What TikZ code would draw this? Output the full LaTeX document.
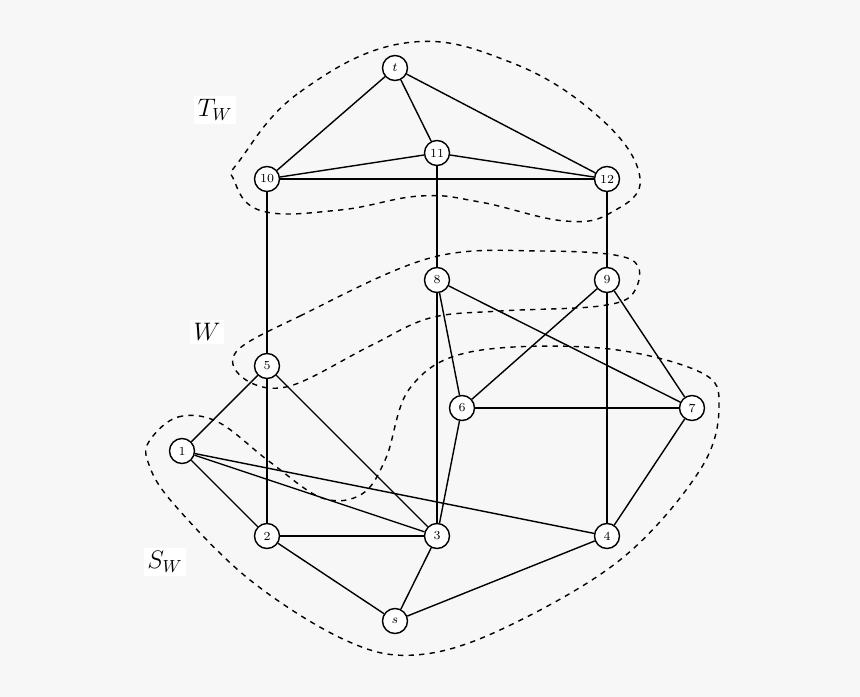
\documentclass[tikz,border=0pt]{standalone}
\begin{document}
\begin{tikzpicture}[
    x=0.02cm, y=-0.02cm,
    vertex/.style={circle, draw, thick, fill=white, minimum size=0.5cm, inner sep=0pt, font=\scriptsize},
    edge/.style={thick},
    blob/.style={thick, dashed},
    setlabel/.style={fill=white, inner sep=2pt, font=\Large}]
  \fill[black!3] (0,0) rectangle (860,697);
  \useasboundingbox (0,0) rectangle (860,697);
  % sets
  \draw[blob] plot[smooth cycle, tension=0.7] coordinates {(240,160) (300,92) (405,43) (510,62) (600,118) (640,178) (612,212) (565,221) (480,202) (420,196) (340,210) (262,211) (234,180)};
  \draw[blob] plot[smooth cycle, tension=0.6] coordinates {(236,352) (300,316) (430,258) (540,251) (630,259) (634,292) (600,306) (500,311) (430,318) (370,346) (290,386) (246,380)};
  \draw[blob] plot[smooth cycle, tension=0.6] coordinates {(150,440) (178,417) (218,422) (270,462) (322,498) (362,494) (386,458) (410,388) (470,352) (600,348) (700,372) (719,406) (700,470) (620,560) (500,630) (415,655) (345,640) (250,580) (172,502) (148,462)};
  \node[setlabel] (TW) at (215,110) {$T_W$};
  \node[setlabel] (W) at (207,332) {$W$};
  \node[setlabel] (SW) at (165,562) {$S_W$};
  % vertices
  \node[vertex] (t) at (395,68) {$t$};
  \node[vertex] (v11) at (437,153) {11};
  \node[vertex] (v10) at (267,179) {10};
  \node[vertex] (v12) at (607,179) {12};
  \node[vertex] (v8) at (437,280) {8};
  \node[vertex] (v9) at (607,280) {9};
  \node[vertex] (v5) at (267,366) {5};
  \node[vertex] (v6) at (462,408) {6};
  \node[vertex] (v7) at (692,408) {7};
  \node[vertex] (v1) at (182,451) {1};
  \node[vertex] (v2) at (267,536) {2};
  \node[vertex] (v3) at (437,536) {3};
  \node[vertex] (v4) at (607,536) {4};
  \node[vertex] (s) at (395,621) {$s$};
  % edges
  \begin{scope}[on background layer/.style={}]
  \foreach \a/\b in {t/v10, t/v11, t/v12, v10/v11, v11/v12, v10/v12, v10/v5, v11/v8, v12/v9,
      v8/v6, v8/v3, v8/v7, v9/v6, v9/v4, v9/v7, v6/v7, v6/v3, v7/v4, v5/v1, v5/v2, v5/v3,
      v1/v2, v1/v3, v1/v4, v2/v3, v2/s, v3/s, v4/s}
    \draw[edge] (\a) -- (\b);
  \end{scope}
\end{tikzpicture}
\end{document}
